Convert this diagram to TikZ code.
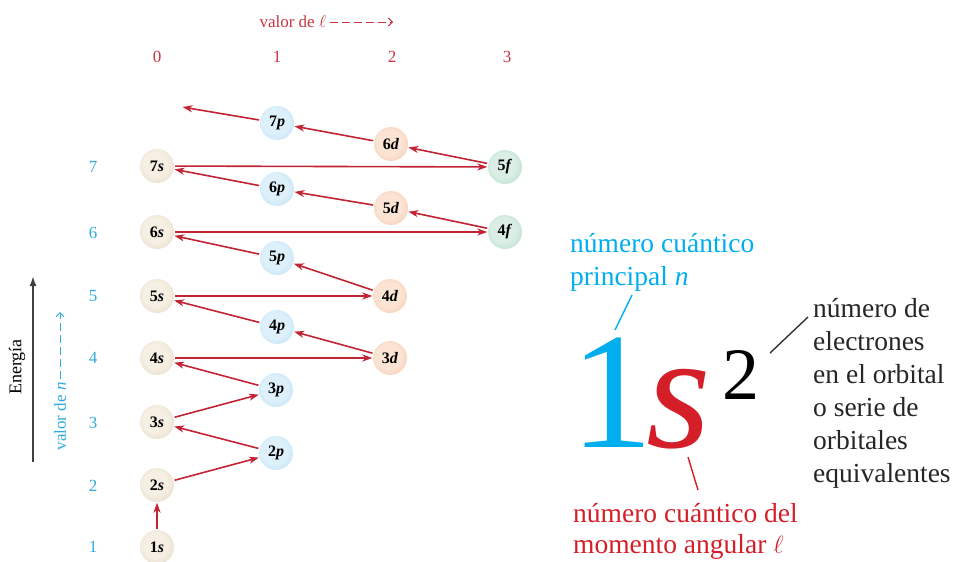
\documentclass[tikz,border=0pt]{standalone}
\usepackage{fontspec}
\setmainfont{Liberation Serif}
\usetikzlibrary{arrows.meta}

% palette
\definecolor{arrowred}{RGB}{194,36,52}
\definecolor{lred}{RGB}{200,52,62}
\definecolor{nblue}{RGB}{48,170,222}
\definecolor{bigcyan}{RGB}{0,174,239}
\definecolor{bigred}{RGB}{212,30,40}
\definecolor{sIn}{RGB}{245,239,228}
\definecolor{sOut}{RGB}{212,196,168}
\definecolor{pIn}{RGB}{222,241,251}
\definecolor{pOut}{RGB}{158,208,238}
\definecolor{dIn}{RGB}{252,228,212}
\definecolor{dOut}{RGB}{238,176,142}
\definecolor{fIn}{RGB}{218,238,229}
\definecolor{fOut}{RGB}{150,200,176}

% soft radial fills for the orbital balls
\pgfdeclareradialshading{shS}{\pgfpoint{-4bp}{4bp}}{color(0bp)=(sIn); color(18bp)=(sIn); color(52bp)=(sOut)}
\pgfdeclareradialshading{shP}{\pgfpoint{-4bp}{4bp}}{color(0bp)=(pIn); color(18bp)=(pIn); color(52bp)=(pOut)}
\pgfdeclareradialshading{shD}{\pgfpoint{-4bp}{4bp}}{color(0bp)=(dIn); color(18bp)=(dIn); color(52bp)=(dOut)}
\pgfdeclareradialshading{shF}{\pgfpoint{-4bp}{4bp}}{color(0bp)=(fIn); color(18bp)=(fIn); color(52bp)=(fOut)}

\tikzset{
  orb/.style={circle, minimum size=34pt, inner sep=0pt, shade,
    font=\fontsize{16}{16}\selectfont\bfseries},
  sorb/.style={orb, shading=shS},
  porb/.style={orb, shading=shP},
  dorb/.style={orb, shading=shD},
  forb/.style={orb, shading=shF},
  arr/.style={draw=arrowred, line width=1.6pt,
    -{Stealth[length=10pt,width=7pt,inset=3pt]},
    shorten >=0.5pt, shorten <=1pt},
  lnum/.style={text=lred, font=\fontsize{17}{17}\selectfont},
  nnum/.style={text=nblue, font=\fontsize{17}{17}\selectfont},
  dasharr/.style={line width=1pt, dash pattern=on 8pt off 4pt,
    -{Straight Barb[length=4pt,width=8pt]}},
  note/.style={anchor=base west, inner sep=0pt,
    font=\fontsize{27.5}{33}\selectfont},
  leader/.style={line width=1.4pt}
}

\begin{document}
\begin{tikzpicture}[x=1pt, y=-1pt]
\useasboundingbox (0,0) rectangle (956,562);

% axis headings
\node[lnum, anchor=west] (lhead) at (256,22) {valor de $\ell$};
\coordinate (lheadtip) at (393,22);
\draw[dasharr, draw=lred] (lhead.east) -- (lheadtip);

\foreach \v/\x in {0/157, 1/277, 2/392, 3/507}
  \node[lnum] (l\v) at (\x,57) {\v};

\foreach \v/\y in {1/547, 2/486, 3/423, 4/358, 5/296, 6/233, 7/167}
  \node[nnum] (n\v) at (93,\y) {\v};

\node[nnum, rotate=90, anchor=west] (nhead) at (60,454) {valor de \textit{n}};
\coordinate (nheadtip) at (60,312);
\draw[dasharr, draw=nblue] (nhead.east) -- (nheadtip);

\node[rotate=90, font=\fontsize{18}{18}\selectfont] (energy) at (17,367) {Energía};
\coordinate (ebottom) at (33,462);
\coordinate (etop) at (33,276);
\draw[line width=1.8pt, draw=black!75, -{Latex[length=10pt,width=7pt]}] (ebottom) -- (etop);

% orbitals
\node[sorb] (s1) at (157,547) {1\textit{s}};
\node[sorb] (s2) at (157,485) {2\textit{s}};
\node[sorb] (s3) at (157,422) {3\textit{s}};
\node[sorb] (s4) at (157,358) {4\textit{s}};
\node[sorb] (s5) at (157,296) {5\textit{s}};
\node[sorb] (s6) at (157,232) {6\textit{s}};
\node[sorb] (s7) at (157,166) {7\textit{s}};

\node[porb] (p2) at (276,453) {2\textit{p}};
\node[porb] (p3) at (276,390) {3\textit{p}};
\node[porb] (p4) at (277,327) {4\textit{p}};
\node[porb] (p5) at (277,258) {5\textit{p}};
\node[porb] (p6) at (277,189) {6\textit{p}};
\node[porb] (p7) at (277,123) {7\textit{p}};

\node[dorb] (d3) at (390,358) {3\textit{d}};
\node[dorb] (d4) at (390,296) {4\textit{d}};
\node[dorb] (d5) at (391,208) {5\textit{d}};
\node[dorb] (d6) at (391,144) {6\textit{d}};

\node[forb] (f4) at (505,232) {4\textit{f}};
\node[forb] (f5) at (505,167) {5\textit{f}};

\coordinate (fillend) at (182,107);

% filling order
\draw[arr] (s1) -- (s2);
\draw[arr] (s2) -- (p2);
\draw[arr] (p2) -- (s3);
\draw[arr] (s3) -- (p3);
\draw[arr] (p3) -- (s4);
\draw[arr] (s4) -- (d3);
\draw[arr] (d3) -- (p4);
\draw[arr] (p4) -- (s5);
\draw[arr] (s5) -- (d4);
\draw[arr] (d4) -- (p5);
\draw[arr] (p5) -- (s6);
\draw[arr] (s6) -- (f4);
\draw[arr] (f4) -- (d5);
\draw[arr] (d5) -- (p6);
\draw[arr] (p6) -- (s7);
\draw[arr] (s7) -- (f5);
\draw[arr] (f5) -- (d6);
\draw[arr] (d6) -- (p7);
\draw[arr] (p7) -- (fillend);

% notation 1s^2
\node[anchor=base west, inner sep=0pt, text=bigcyan,
  font=\fontsize{166}{166}\selectfont] (big1) at (570,447) {1};
\node[anchor=base west, inner sep=0pt, text=bigred,
  font=\fontsize{166}{166}\selectfont\itshape] (bigs) at (646,447) {s};
\node[anchor=base west, inner sep=0pt, text=black,
  font=\fontsize{74}{74}\selectfont] (big2) at (722,399) {2};

\node[note, text=bigcyan] (nq1) at (570,252) {número cuántico};
\node[note, text=bigcyan] (nq2) at (570,285) {principal \textit{n}};

\foreach \t [count=\i] in {número de, electrones, en el orbital, o serie de, orbitales, equivalentes}
  \node[note, text=black!85] (ne\i) at (813,{284+33*\i}) {\t};

\node[note, text=bigred] (lq1) at (573,522) {número cuántico del};
\node[note, text=bigred] (lq2) at (573,553) {momento angular $\ell$};

% leader lines
\coordinate (cyanA) at (632,295);
\coordinate (cyanB) at (615,330);
\draw[leader, draw=bigcyan] (cyanA) -- (cyanB);
\coordinate (blackA) at (808,317);
\coordinate (blackB) at (770,353);
\draw[leader, draw=black!80] (blackA) -- (blackB);
\coordinate (redA) at (688,457);
\coordinate (redB) at (698,490);
\draw[leader, draw=bigred] (redA) -- (redB);

\end{tikzpicture}
\end{document}
